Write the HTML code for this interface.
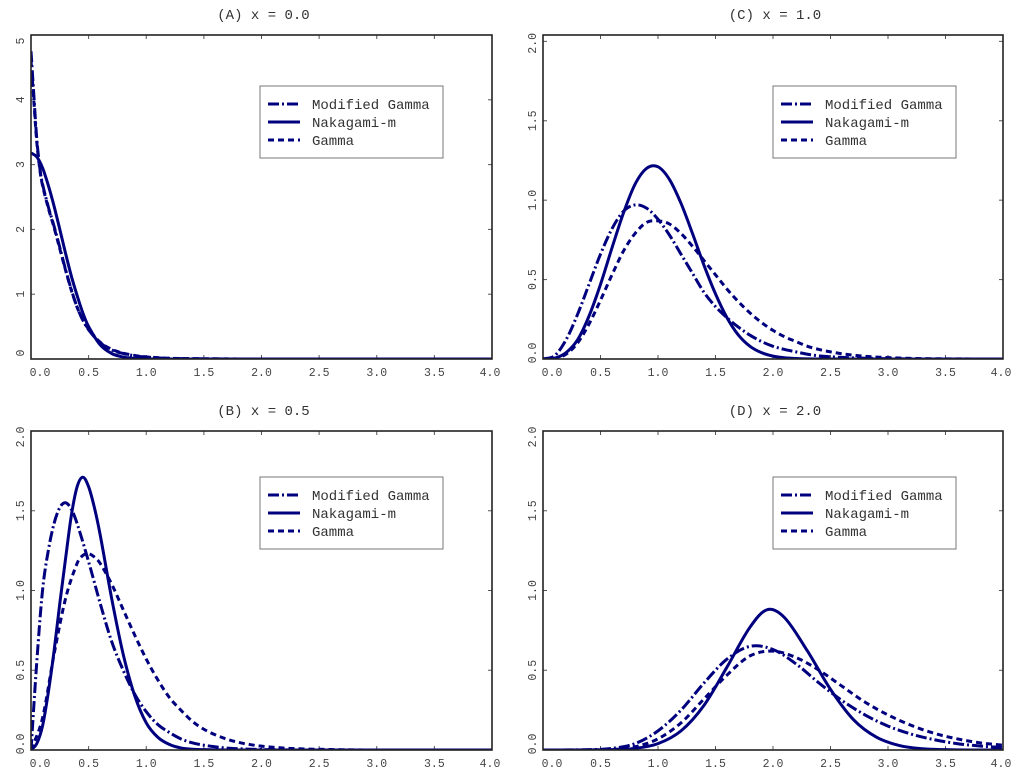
<!DOCTYPE html>
<html><head><meta charset="utf-8">
<style>
html,body{margin:0;padding:0;background:#fff;}
svg{display:block;font-family:"Liberation Mono",monospace;}
</style></head>
<body>
<svg id="fig" width="1024" height="784" viewBox="0 0 1024 784" xmlns="http://www.w3.org/2000/svg"></svg>
<script>
// ---- data ----
const titles = ["(A) x = 0.0","(C) x = 1.0","(B) x = 0.5","(D) x = 2.0"];
const seriesNames = ["Modified Gamma","Nakagami-m","Gamma"];
const xTicks = [0,0.5,1,1.5,2,2.5,3,3.5,4];
const xTickLabels = ["0.0","0.5","1.0","1.5","2.0","2.5","3.0","3.5","4.0"];
const yTicksA = [0,1,2,3,4,5];
const yTickLabelsA = ["0","1","2","3","4","5"];
const yTicks2 = [0,0.5,1,1.5,2];
const yTickLabels2 = ["0.0","0.5","1.0","1.5","2.0"];

// Panel A (x = 0.0)
const aModX = [0,0.02,0.05,0.08,0.1,0.15,0.2,0.25,0.3,0.35,0.4,0.45,0.5,0.6,0.7,0.8,0.9,1.0,1.2,1.5,2.0,4.0];
const aModY = [4.75,4.2,3.4,2.9,2.7,2.35,2.05,1.72,1.38,1.07,0.8,0.6,0.45,0.25,0.14,0.085,0.05,0.03,0.01,0.003,0,0];
const aNakX = [0,0.05,0.1,0.15,0.2,0.25,0.3,0.35,0.4,0.45,0.5,0.6,0.7,0.8,0.9,1.0,1.2,4.0];
const aNakY = [3.18,3.12,2.95,2.68,2.36,2.0,1.63,1.28,0.98,0.71,0.5,0.22,0.085,0.03,0.008,0.002,0,0];
const aGamX = [0,0.02,0.05,0.08,0.1,0.15,0.2,0.25,0.3,0.35,0.4,0.45,0.5,0.6,0.7,0.8,0.9,1.0,1.2,1.5,2.0,4.0];
const aGamY = [4.6,4.1,3.35,2.88,2.68,2.33,2.03,1.7,1.37,1.06,0.8,0.6,0.46,0.26,0.15,0.09,0.055,0.033,0.012,0.004,0,0];

// Panel C (x = 1.0)
const cModX = [0,0.1,0.2,0.3,0.4,0.5,0.6,0.7,0.8,0.9,1.0,1.1,1.2,1.3,1.4,1.5,1.6,1.7,1.8,1.9,2.0,2.1,2.2,2.3,2.4,2.5,2.6,2.7,2.8,2.9,3.0,3.3,4.0];
const cModY = [0,0.02,0.12,0.28,0.47,0.66,0.82,0.93,0.97,0.95,0.88,0.78,0.66,0.54,0.42,0.33,0.26,0.2,0.15,0.11,0.08,0.06,0.045,0.03,0.02,0.014,0.01,0.007,0.005,0.003,0.002,0,0];
const cNakX = [0,0.1,0.2,0.3,0.4,0.5,0.6,0.7,0.8,0.9,1.0,1.1,1.2,1.3,1.4,1.5,1.6,1.7,1.8,1.9,2.0,2.1,2.2,2.3,2.5,4.0];
const cNakY = [0,0.005,0.04,0.12,0.27,0.47,0.7,0.92,1.1,1.2,1.21,1.13,0.98,0.79,0.59,0.41,0.26,0.15,0.08,0.04,0.018,0.008,0.003,0.001,0,0];
const cGamX = [0,0.1,0.2,0.3,0.4,0.5,0.6,0.7,0.8,0.9,1.0,1.1,1.2,1.3,1.4,1.5,1.6,1.7,1.8,1.9,2.0,2.1,2.2,2.3,2.4,2.5,2.6,2.7,2.8,2.9,3.0,3.2,3.5,4.0];
const cGamY = [0,0.004,0.03,0.1,0.22,0.37,0.53,0.68,0.79,0.86,0.87,0.85,0.79,0.71,0.62,0.53,0.44,0.36,0.29,0.23,0.18,0.14,0.11,0.08,0.06,0.045,0.033,0.024,0.017,0.012,0.009,0.004,0.001,0];

// Panel B (x = 0.5)
const bModX = [0,0.05,0.1,0.15,0.2,0.25,0.3,0.35,0.4,0.5,0.6,0.7,0.8,0.9,1.0,1.1,1.2,1.3,1.4,1.5,1.6,1.7,1.8,2.0,2.4,4.0];
const bModY = [0,0.55,1.0,1.25,1.42,1.52,1.55,1.51,1.42,1.18,0.92,0.68,0.5,0.35,0.24,0.16,0.11,0.07,0.045,0.03,0.02,0.012,0.008,0.003,0,0];
const bNakX = [0,0.05,0.1,0.15,0.2,0.25,0.3,0.35,0.4,0.45,0.5,0.55,0.6,0.7,0.8,0.9,1.0,1.1,1.2,1.3,1.4,1.5,1.7,4.0];
const bNakY = [0,0.04,0.15,0.36,0.62,0.92,1.2,1.47,1.65,1.71,1.65,1.52,1.35,0.95,0.6,0.34,0.17,0.08,0.035,0.013,0.005,0.002,0,0];
const bGamX = [0,0.1,0.2,0.3,0.4,0.45,0.5,0.55,0.6,0.7,0.8,0.9,1.0,1.1,1.2,1.3,1.4,1.5,1.6,1.7,1.8,1.9,2.0,2.2,2.4,2.6,2.8,3.0,4.0];
const bGamY = [0,0.2,0.6,0.95,1.17,1.22,1.23,1.21,1.17,1.04,0.88,0.72,0.57,0.44,0.33,0.25,0.18,0.13,0.095,0.068,0.048,0.034,0.024,0.012,0.006,0.003,0.001,0,0];

// Panel D (x = 2.0)
const dModX = [0,0.4,0.6,0.8,1.0,1.2,1.4,1.6,1.8,2.0,2.2,2.4,2.6,2.8,3.0,3.2,3.4,3.6,3.8,4.0];
const dModY = [0,0.002,0.01,0.04,0.12,0.25,0.42,0.57,0.65,0.63,0.54,0.42,0.31,0.22,0.15,0.1,0.065,0.04,0.025,0.015];
const dNakX = [0,0.6,0.8,1.0,1.2,1.4,1.6,1.8,1.95,2.1,2.3,2.5,2.7,2.9,3.1,3.3,3.5,3.7,4.0];
const dNakY = [0,0.002,0.01,0.04,0.12,0.28,0.52,0.77,0.88,0.83,0.62,0.38,0.19,0.08,0.028,0.008,0.002,0,0];
const dGamX = [0,0.6,0.8,1.0,1.2,1.4,1.6,1.8,2.0,2.2,2.4,2.6,2.8,3.0,3.2,3.4,3.6,3.8,4.0];
const dGamY = [0,0.003,0.02,0.07,0.17,0.32,0.47,0.59,0.62,0.58,0.5,0.4,0.3,0.22,0.155,0.105,0.07,0.045,0.03];

// ---- drawing ----
const NS = "http://www.w3.org/2000/svg";
const svg = document.getElementById("fig");
const COLOR = "#00007f";
function mk(tag, attrs, parent){
  const e = document.createElementNS(NS, tag);
  for (const k in attrs) e.setAttribute(k, attrs[k]);
  (parent||svg).appendChild(e);
  return e;
}
const styles = [
  {w:3, dash:"11,3,2,3"},
  {w:3, dash:""},
  {w:3, dash:"6,4"}
];
function crPath(xs, ys, sx, sy){
  const n = xs.length, px = xs.map(sx), py = ys.map(sy);
  let p = "M"+px[0].toFixed(2)+","+py[0].toFixed(2);
  for (let i=0;i<n-1;i++){
    const i0=Math.max(0,i-1), i3=Math.min(n-1,i+2);
    const h = px[i+1]-px[i];
    const m1 = (py[i+1]-py[i0])/(px[i+1]-px[i0]);
    const m2 = (py[i3]-py[i])/(px[i3]-px[i]);
    p += " C"+(px[i]+h/3).toFixed(2)+","+(py[i]+m1*h/3).toFixed(2)+" "+(px[i+1]-h/3).toFixed(2)+","+(py[i+1]-m2*h/3).toFixed(2)+" "+px[i+1].toFixed(2)+","+py[i+1].toFixed(2);
  }
  return p;
}

const panels = [
  {id:"a", title:titles[0], L:31, R:492, T:35, B:359, ymax:5.0, yt:yTicksA, ytl:yTickLabelsA, leg:[260,86],
   series:[[aModX,aModY],[aNakX,aNakY],[aGamX,aGamY]]},
  {id:"c", title:titles[1], L:543, R:1003, T:35, B:359, ymax:2.04, yt:yTicks2, ytl:yTickLabels2, leg:[773,86],
   series:[[cModX,cModY],[cNakX,cNakY],[cGamX,cGamY]]},
  {id:"b", title:titles[2], L:31, R:492, T:431, B:750, ymax:2.0, yt:yTicks2, ytl:yTickLabels2, leg:[260,477],
   series:[[bModX,bModY],[bNakX,bNakY],[bGamX,bGamY]]},
  {id:"d", title:titles[3], L:543, R:1003, T:431, B:750, ymax:2.0, yt:yTicks2, ytl:yTickLabels2, leg:[773,477],
   series:[[dModX,dModY],[dNakX,dNakY],[dGamX,dGamY]]}
];
const seriesKeys = ["modified-gamma","nakagami-m","gamma"];

panels.forEach(P=>{
  const g = mk("g",{});
  
  
  const sx = v => P.L + (v-0)/(4-0)*(P.R-P.L);
  const sy = v => P.B - v/P.ymax*(P.B-P.T);
  const t = mk("text",{x:(P.L+P.R)/2+2, y:P.T-16, "text-anchor":"middle", "font-size":"14", fill:"#333"}, g);
  t.textContent = P.title;
  
  
  const cp = mk("clipPath",{id:"clip-"+P.id}, g);
  mk("rect",{x:P.L, y:P.T-4, width:P.R-P.L, height:P.B-P.T+4}, cp);
  xTicks.forEach((v,i)=>{
    const x = sx(v);
    mk("line",{x1:x,y1:P.B,x2:x,y2:P.B-4,stroke:"#555","stroke-width":1},g);
    mk("line",{x1:x,y1:P.T,x2:x,y2:P.T+4,stroke:"#555","stroke-width":1},g);
    const lx = i===0 ? x+9 : (i===xTicks.length-1 ? x-2 : x);
    const tl = mk("text",{x:lx, y:P.B+17, "text-anchor":"middle","font-size":"11.5", fill:"#444"},g);
    tl.textContent = xTickLabels[i];
    
    
  });
  P.yt.forEach((v,i)=>{
    const y = sy(v);
    mk("line",{x1:P.L,y1:y,x2:P.L+4,y2:y,stroke:"#555","stroke-width":1},g);
    mk("line",{x1:P.R,y1:y,x2:P.R-4,y2:y,stroke:"#555","stroke-width":1},g);
    let ly = y;
    if (i===0) ly = y-6; if (i===P.yt.length-1 && P.ymax===v) ly = y+6;
    if (P.id==="c" && i===P.yt.length-1) ly = y+2;
    const lx = P.L-10;
    const tl = mk("text",{x:lx, y:ly, "text-anchor":"middle","font-size":"11.5", fill:"#444", transform:"rotate(-90 "+lx+" "+ly+")", "dominant-baseline":"middle"},g);
    tl.textContent = P.ytl[i];
    
    
  });
  P.series.forEach((s,k)=>{
    const p = mk("path",{d:crPath(s[0],s[1],sx,sy), fill:"none", stroke:COLOR, "stroke-width":styles[k].w, "stroke-dasharray":styles[k].dash, "clip-path":"url(#clip-"+P.id+")"},g);
    
    
  });
  const fr = mk("rect",{x:P.L,y:P.T,width:P.R-P.L,height:P.B-P.T,fill:"none",stroke:"#222","stroke-width":1.6},g);
  
  
  const lg = mk("g",{},g);
  
  
  const [lx0,ly0] = P.leg;
  mk("rect",{x:lx0,y:ly0,width:183,height:72,fill:"#fff",stroke:"#777","stroke-width":1},lg);
  seriesNames.forEach((name,k)=>{
    const y = ly0+18+k*18;
    const e = mk("g",{},lg);
    
    
    mk("line",{x1:lx0+8,y1:y,x2:lx0+40,y2:y,stroke:COLOR,"stroke-width":styles[k].w,"stroke-dasharray":styles[k].dash},e);
    const tx = mk("text",{x:lx0+52,y:y+5,"font-size":"14",fill:"#333"},e);
    tx.textContent = name;
  });
});
</script>
</body></html>
